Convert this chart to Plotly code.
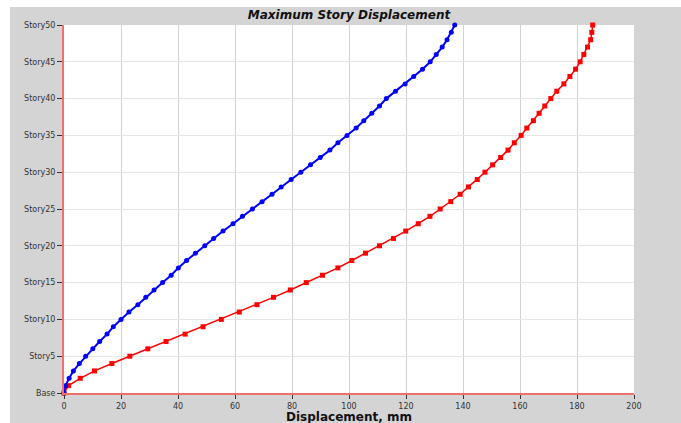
import plotly.graph_objects as go

stories = ["Base"] + [f"Story{i}" for i in range(1, 51)]

blue_disp = [0, 0.5, 1.8, 3.3, 5.4, 7.6, 10.1, 12.5, 15.1, 17.3, 20.0,
             22.8, 25.9, 28.7, 31.6, 34.6, 37.6, 40.1, 43.0, 46.1, 49.4,
             52.5, 55.8, 59.3, 62.6, 66.1, 69.5, 73.0, 76.2, 79.7, 83.1,
             86.5, 89.9, 93.3, 96.1, 99.3, 102.5, 105.2, 108.0, 110.7, 113.1,
             116.3, 119.7, 122.7, 125.8, 128.5, 130.6, 132.7, 134.4, 135.9, 137.1]

red_disp = [0, 1.6, 5.7, 10.7, 16.8, 23.1, 29.4, 35.8, 42.5, 48.8, 55.2,
            61.5, 67.7, 73.5, 79.4, 85.0, 90.7, 96.1, 101.0, 105.8, 110.7,
            115.6, 119.9, 124.3, 128.4, 132.0, 135.7, 139.0, 141.9, 145.0, 147.7,
            150.4, 153.2, 155.8, 158.0, 160.4, 162.4, 164.7, 166.7, 168.7, 170.8,
            172.9, 175.4, 177.5, 179.5, 181.1, 182.4, 183.7, 184.8, 185.2, 185.5]

y_tick_labels = ["Base", "Story5", "Story10", "Story15", "Story20", "Story25",
                 "Story30", "Story35", "Story40", "Story45", "Story50"]
x_ticks = [0, 20, 40, 60, 80, 100, 120, 140, 160, 180, 200]

fig = go.Figure()
fig.add_trace(go.Scatter(
    x=red_disp, y=stories, mode="lines+markers",
    line=dict(color="#ff0000", width=1.5),
    marker=dict(symbol="square", size=5, color="#ff0000"),
    cliponaxis=False, showlegend=False))
fig.add_trace(go.Scatter(
    x=blue_disp, y=stories, mode="lines+markers",
    line=dict(color="#0000ff", width=2),
    marker=dict(symbol="circle", size=5, color="#0000ff"),
    cliponaxis=False, showlegend=False))

W, H = 681, 423
L, R, T, B = 64, 47, 25, 30
pw, ph = W - L - R, H - T - B

def px(x):
    return (x - L) / pw

def py(y):
    return (H - B - y) / ph

shapes = [
    dict(type="rect", xref="paper", yref="paper", x0=px(0), x1=px(W), y0=py(7), y1=py(0),
         fillcolor="white", line=dict(width=0), layer="below"),
    dict(type="rect", xref="paper", yref="paper", x0=px(0), x1=px(10), y0=py(H), y1=py(0),
         fillcolor="white", line=dict(width=0), layer="below"),
]

annotations = [
    dict(text="<b>Displacement, mm</b>", xref="paper", yref="paper",
         x=0.5, y=py(417), xanchor="center", yanchor="middle", showarrow=False,
         font=dict(family="DejaVu Sans", size=12, color="#111111")),
]

fig.update_layout(
    width=W, height=H,
    margin=dict(l=L, r=R, t=T, b=B, autoexpand=False),
    paper_bgcolor="#d4d4d4",
    plot_bgcolor="white",
    shapes=shapes,
    annotations=annotations,
    font=dict(family="DejaVu Sans", color="#333333"),
    title=dict(text="<b><i>Maximum Story Displacement</i></b>",
               x=0.5, xref="paper", xanchor="center",
               y=1 - 15 / H, yref="container", yanchor="middle",
               font=dict(family="DejaVu Sans", size=12, color="#111111")),
    xaxis=dict(range=[0, 200], tickvals=x_ticks, ticks="outside", ticklen=4,
               tickcolor="#333333", tickfont=dict(size=8, color="#333333"),
               showgrid=True, gridcolor="#d2d2d2", gridwidth=1,
               showline=True, linecolor="#f07070", linewidth=2,
               zeroline=False, automargin=False),
    yaxis=dict(type="category", categoryorder="array", categoryarray=stories,
               range=[0, 50], tickvals=y_tick_labels, ticks="outside", ticklen=5,
               tickcolor="#333333", tickfont=dict(size=8, color="#333333"),
               showgrid=True, gridcolor="#e6e6e6", gridwidth=1,
               showline=True, linecolor="#f07070", linewidth=2,
               zeroline=False, automargin=False),
)

fig.write_html("out.html")
